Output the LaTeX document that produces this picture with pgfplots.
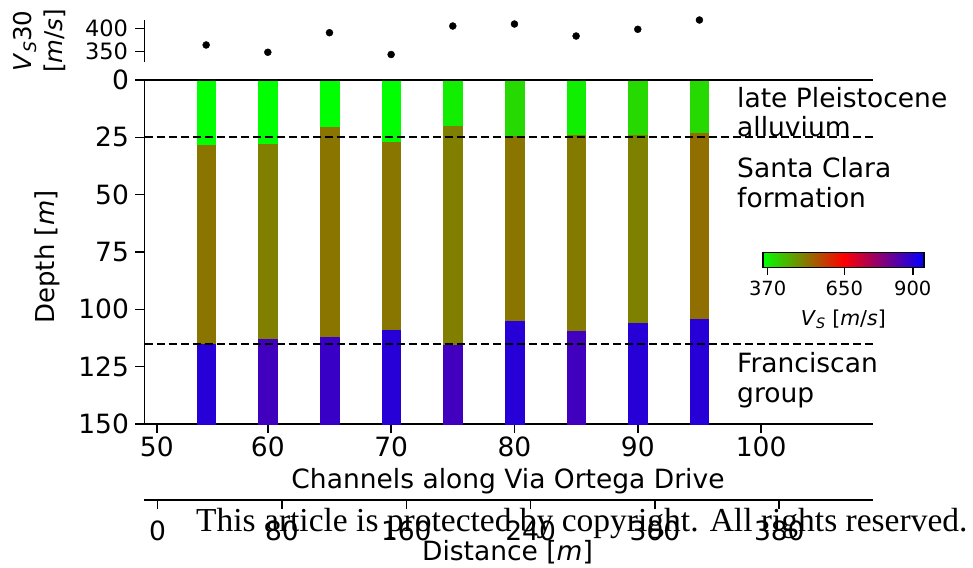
\documentclass[border=0pt]{standalone}
\usepackage{pgfplots}
\pgfplotsset{compat=1.18}
\usepgfplotslibrary{patchplots}
\usepackage{fontspec}
\setmainfont{DejaVu Sans}
\newfontfamily\wmfont{Liberation Serif}
\newcommand{\fs}[1]{\fontsize{#1}{#1}\selectfont}
\pgfplotsset{/pgf/number format/assume math mode=true}
\begin{document}
\begin{tikzpicture}[x=1pt,y=1pt]
\path[use as bounding box] (0pt,0pt) rectangle (973pt,-567pt);
% ---------------- main depth panel
\begin{axis}[
  name=main,
  at={(144.5pt,-424pt)}, anchor=south west,
  scale only axis, width=728.8pt, height=344pt,
  xmin=50, xmax=109.1, ymin=-150, ymax=0,
  axis x line*=bottom, axis y line*=left,
  axis line style={line width=1.6pt, -},
  tick align=outside, major tick length=9pt,
  every tick/.style={line width=1.6pt, black},
  xtick={51,60,70,80,90,100}, xticklabels={50,60,70,80,90,100},
  ytick={-150,-125,-100,-75,-50,-25,0}, yticklabels={150,125,100,75,50,25,0},
  ticklabel style={font=\fs{26.5}},
  yticklabel style={xshift=-3pt},
  clip=false,
  colormap={gvrb}{rgb255=(0,255,0) rgb255=(255,0,0) rgb255=(0,0,255)},
  point meta min=352, point meta max=941,
  colorbar horizontal,
  colorbar style={
    at={(parent axis.south west)}, anchor=south west,
    xshift=618.2pt, yshift=165pt,
    scale only axis, width=161.3pt, height=15pt,
    xtick={370,650,900},
    xticklabel style={font=\fs{19.5}, yshift=-3pt},
    axis line style={line width=1.8pt},
    tick align=outside, major tick length=7pt, xtick pos=left,
    every tick/.style={line width=1.6pt, black},
    xlabel={\textit{V}\textsubscript{\textit{S}} [\textit{m}/\textit{s}]},
    xlabel style={font=\fs{20.5}, yshift=-7pt},
  },
]
\addplot[patch, patch type=rectangle, shader=flat, point meta=explicit]
 table[x=x, y expr=-\thisrow{d}, meta=v] {
x d v
54.25 0 352
55.75 0 352
55.75 28.6 352
54.25 28.6 352
54.25 28.6 512
55.75 28.6 512
55.75 115.4 512
54.25 115.4 512
54.25 115.4 896
55.75 115.4 896
55.75 150 896
54.25 150 896
59.25 0 352
60.75 0 352
60.75 27.8 352
59.25 27.8 352
59.25 27.8 500
60.75 27.8 500
60.75 113.1 500
59.25 113.1 500
59.25 113.1 866
60.75 113.1 866
60.75 150 866
59.25 150 866
64.25 0 352
65.75 0 352
65.75 20.6 352
64.25 20.6 352
64.25 20.6 512
65.75 20.6 512
65.75 112.1 512
64.25 112.1 512
64.25 112.1 877
65.75 112.1 877
65.75 150 877
64.25 150 877
69.25 0 352
70.75 0 352
70.75 27.3 352
69.25 27.3 352
69.25 27.3 510
70.75 27.3 510
70.75 109.1 510
69.25 109.1 510
69.25 109.1 896
70.75 109.1 896
70.75 150 896
69.25 150 896
74.25 0 372
75.75 0 372
75.75 20.2 372
74.25 20.2 372
74.25 20.2 500
75.75 20.2 500
75.75 115.8 500
74.25 115.8 500
74.25 115.8 866
75.75 115.8 866
75.75 150 866
74.25 150 866
79.25 0 396
80.75 0 396
80.75 24.4 396
79.25 24.4 396
79.25 24.4 512
80.75 24.4 512
80.75 105.2 512
79.25 105.2 512
79.25 105.2 896
80.75 105.2 896
80.75 150 896
79.25 150 896
84.25 0 370
85.75 0 370
85.75 24.1 370
84.25 24.1 370
84.25 24.1 506
85.75 24.1 506
85.75 109.4 506
84.25 109.4 506
84.25 109.4 866
85.75 109.4 866
85.75 150 866
84.25 150 866
89.25 0 396
90.75 0 396
90.75 24.1 396
89.25 24.1 396
89.25 24.1 498
90.75 24.1 498
90.75 106.2 498
89.25 106.2 498
89.25 106.2 896
90.75 106.2 896
90.75 150 896
89.25 150 896
94.25 0 396
95.75 0 396
95.75 23.0 396
94.25 23.0 396
94.25 23.0 518
95.75 23.0 518
95.75 104.4 518
94.25 104.4 518
94.25 104.4 896
95.75 104.4 896
95.75 150 896
94.25 150 896
};
\addplot[black, line width=1.8pt, dash pattern=on 8pt off 4pt] coordinates {(50,-25) (109.1,-25)};
\addplot[black, line width=1.8pt, dash pattern=on 8pt off 4pt] coordinates {(50,-115) (109.1,-115)};
\draw[line width=1.6pt] (rel axis cs:0,1) -- (rel axis cs:1,1);
\end{axis}
% ---------------- VS30 panel
\begin{axis}[
  at={(144.5pt,-61.7pt)}, anchor=south west,
  scale only axis, width=728.8pt, height=41.7pt,
  xmin=50, xmax=109.1, ymin=328.5, ymax=417.8,
  axis y line*=left, axis x line=none,
  axis line style={line width=1.6pt, -},
  ytick={350,400},
  tick align=outside, major tick length=9pt,
  every tick/.style={line width=1.6pt, black},
  ticklabel style={font=\fs{22.5}},
  yticklabel style={xshift=-4pt},
  clip=false,
]
\addplot[only marks, mark=*, mark size=3.5pt, black] coordinates {
(55,364.3) (60,348.7) (65,390.6) (70,343.9) (75,404.9) (80,409.2) (85,383.5) (90,397.9) (95,417.8)};
\end{axis}
% ---------------- distance axis
\begin{axis}[
  at={(144pt,-500pt)}, anchor=south west,
  scale only axis, width=729.3pt, height=10pt,
  xmin=-8.8, xmax=460.5, ymin=0, ymax=1,
  axis x line*=bottom, hide y axis,
  axis line style={line width=1.6pt, -},
  tick align=outside, major tick length=9pt,
  every tick/.style={line width=1.6pt, black},
  xtick={0,80,160,240,320,400},
  xticklabels={0,80,160,240,300,380},
  ticklabel style={font=\fs{26.5}},
  xticklabel style={yshift=-8pt},
]
\addplot[draw=none] coordinates {(0,0.5)};
\end{axis}
% ---------------- texts
\node[anchor=base, font=\fs{26.5}] at (508pt,-488pt) {Channels along Via Ortega Drive};
\node[anchor=base, font=\fs{26.5}] at (507.5pt,-560pt) {Distance [\textit{m}]};
\node[rotate=90, font=\fs{26}] at (47pt,-257pt) {Depth [\textit{m}]};
\node[rotate=90, align=center, font=\fontsize{24.5}{31}\selectfont] at (40pt,-40.8pt) {\textit{V}\textsubscript{\textit{S}}30\\{}[\textit{m}/\textit{s}]};
\begin{scope}[every node/.style={anchor=base west, inner sep=0pt, font=\fs{26.5}}]
\node at (737pt,-107pt) {late Pleistocene};
\node at (737pt,-136pt) {alluvium};
\node at (737pt,-177pt) {Santa Clara};
\node at (737pt,-207pt) {formation};
\node at (737pt,-372pt) {Franciscan};
\node at (737pt,-402pt) {group};
\end{scope}
\node[anchor=base west, inner sep=0pt, font=\wmfont\fs{33.5}] at (196pt,-531pt) {This article is protected by copyright. All rights reserved.};
\end{tikzpicture}
\end{document}
